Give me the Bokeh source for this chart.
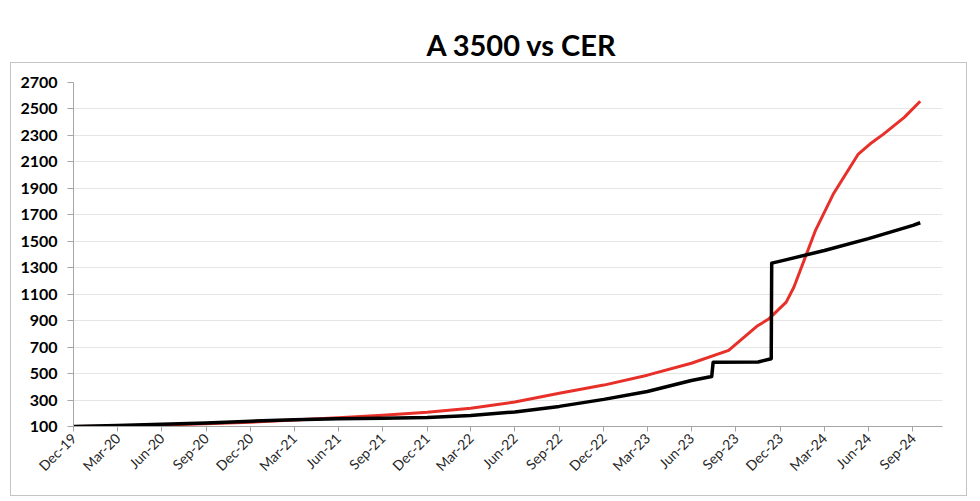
import pandas as pd
from bokeh.plotting import figure
from bokeh.models import Range1d, FixedTicker, DatetimeTickFormatter, InlineStyleSheet
from bokeh.embed import file_html
from bokeh.resources import INLINE

# ---- data (index, Dec-19 = 100) ----
a3500_dates = ["2019-12-31", "2020-03-31", "2020-06-30", "2020-09-30", "2020-12-31",
               "2021-03-31", "2021-06-30", "2021-09-30", "2021-12-31", "2022-03-31",
               "2022-06-30", "2022-09-30", "2022-12-31", "2023-03-31",
               "2023-06-30", "2023-08-11", "2023-08-14", "2023-11-15", "2023-12-12",
               "2023-12-13", "2023-12-31", "2024-03-31", "2024-06-30", "2024-09-30",
               "2024-10-15"]
a3500_values = [100, 108, 117, 127, 140,
                151, 158, 163, 168, 183,
                210, 252, 305, 365,
                448, 478, 586, 588, 612,
                1335, 1350, 1430, 1520, 1620,
                1640]

cer_dates = ["2019-12-31", "2020-03-31", "2020-06-30", "2020-09-30", "2020-12-31",
             "2021-03-31", "2021-06-30", "2021-09-30", "2021-12-31", "2022-03-31",
             "2022-06-30", "2022-09-30", "2022-12-31", "2023-03-31", "2023-06-30",
             "2023-09-15", "2023-11-14", "2023-12-06", "2024-01-12", "2024-01-28",
             "2024-03-12", "2024-04-18", "2024-06-09", "2024-07-03",
             "2024-07-31", "2024-09-12", "2024-10-15"]
cer_values = [100, 104, 111, 120, 132,
              149, 167, 185, 208, 238,
              285, 352, 413, 488, 578,
              675, 862, 910, 1040, 1154,
              1578, 1855, 2159, 2235,
              2310, 2436, 2558]

tick_dates = ["2019-12-31", "2020-03-31", "2020-06-30", "2020-09-30", "2020-12-31",
              "2021-03-31", "2021-06-30", "2021-09-30", "2021-12-31", "2022-03-31",
              "2022-06-30", "2022-09-30", "2022-12-31", "2023-03-31", "2023-06-30",
              "2023-09-30", "2023-12-31", "2024-03-31", "2024-06-30", "2024-09-30"]
y_ticks = [100, 300, 500, 700, 900, 1100, 1300, 1500, 1700, 1900, 2100, 2300, 2500, 2700]

title_text = "A 3500 vs CER"

# ---- figure ----
x_start = pd.Timestamp("2019-12-31")
x_end = pd.Timestamp("2024-11-30")

p = figure(width=980, height=501, x_axis_type="datetime",
           x_range=Range1d(x_start, x_end), y_range=Range1d(100, 2700),
           output_backend="svg", toolbar_location=None, title=title_text)
p.min_border_left = 73
p.min_border_right = 38
p.min_border_top = 82
p.min_border_bottom = 75
p.outline_line_color = None
p.background_fill_color = "white"
p.border_fill_color = "white"

p.title.align = "left"
p.title.offset = 353
p.title.text_font = "Lato"
p.title.text_font_style = "bold"
p.title.text_font_size = "29px"
p.title.text_color = "#000000"
p.title.standoff = 42

p.line(pd.to_datetime(cer_dates), cer_values, line_color="#e8302a", line_width=3,
       line_join="round")
p.line(pd.to_datetime(a3500_dates), a3500_values, line_color="#000000", line_width=3.5,
       line_join="round")

# y axis
p.yaxis.ticker = FixedTicker(ticks=y_ticks)
p.yaxis.axis_line_color = "#a6a6a6"
p.yaxis.major_tick_line_color = "#a6a6a6"
p.yaxis.major_tick_out = 6
p.yaxis.major_tick_in = 0
p.yaxis.minor_tick_line_color = None
p.yaxis.major_label_text_font = "Lato"
p.yaxis.major_label_text_font_style = "bold"
p.yaxis.major_label_text_font_size = "16px"
p.yaxis.major_label_text_color = "#000000"
p.yaxis.major_label_standoff = 10

# x axis
tick_ms = [pd.Timestamp(d).value // 10**6 for d in tick_dates]
p.xaxis.ticker = FixedTicker(ticks=tick_ms)
fmt = "%b-%y"
p.xaxis.formatter = DatetimeTickFormatter(microseconds=fmt, milliseconds=fmt, seconds=fmt,
                                          minsec=fmt, minutes=fmt, hourmin=fmt, hours=fmt,
                                          days=fmt, months=fmt, years=fmt)
p.xaxis.axis_line_color = "#a6a6a6"
p.xaxis.major_tick_line_color = "#a6a6a6"
p.xaxis.major_tick_out = 5
p.xaxis.major_tick_in = 0
p.xaxis.minor_tick_line_color = None
p.xaxis.major_label_orientation = 0.785398
p.xaxis.major_label_text_font = "Lato"
p.xaxis.major_label_text_font_size = "14px"
p.xaxis.major_label_text_color = "#262626"
p.xaxis.major_label_standoff = 4

p.xgrid.grid_line_color = None
p.ygrid.grid_line_color = "#e6e6e6"
p.ygrid.grid_line_width = 1

# outer chart border (decorative frame around the plot area)
p.stylesheets = [InlineStyleSheet(css="""
:host { position: relative; }
:host::after {
  content: "";
  position: absolute;
  left: 10px; top: 62px;
  width: 955px; height: 432px;
  border: 1.5px solid #c4c4c4;
  pointer-events: none;
}
""")]

open("out.html", "w").write(file_html(p, INLINE))
